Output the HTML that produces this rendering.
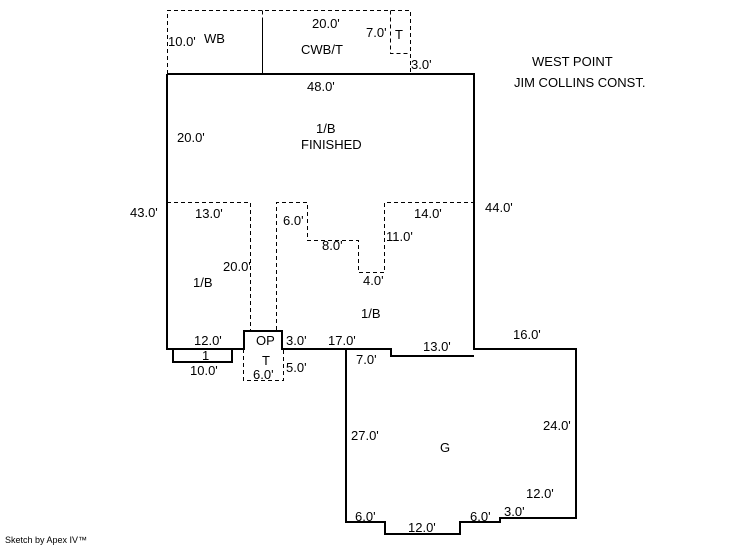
<!DOCTYPE html>
<html><head><meta charset="utf-8"><style>
html,body{margin:0;padding:0;background:#fff;}
svg{display:block;}
text{font-family:"Liberation Sans",Arial,sans-serif;font-size:13px;fill:#000;}
</style></head><body>
<svg width="746" height="547" viewBox="0 0 746 547" xmlns="http://www.w3.org/2000/svg">
<g fill="none" stroke="#000" stroke-width="1" stroke-dasharray="4,3">
<path d="M167.5 74 V10.5 H410.5 V74"/>
<path d="M262.5 10.5 V20"/>
<path d="M390.5 10.5 V53.5 H410.5"/>
<path d="M167 202.5 H250.5 V330"/>
<path d="M276.5 330 V202.5 H307.5 V240.5 H358.5 V272.5 H384.5 V202.5 H474"/>
<path d="M243.5 349 V380.5 H283.5 V349"/>
</g>
<path d="M262.5 20 V74" stroke="#000" stroke-width="1"/>
<g fill="none" stroke="#000" stroke-width="2" stroke-linejoin="miter">
<path d="M167 74 H474 V349 H576 V518 H500 V522 H460 V534 H385 V522 H346 V349"/>
<path d="M167 74 V349 H244 V331 H282 V349 H391 V356 H474"/>
<path d="M173 349 V362 H232 V349"/>
</g>
<g>
<text x="168" y="46">10.0'</text><text x="204" y="43">WB</text>
<text x="312" y="28">20.0'</text><text x="301" y="54">CWB/T</text>
<text x="366" y="37">7.0'</text><text x="395" y="39">T</text>
<text x="411" y="69">3.0'</text>
<text x="307" y="91">48.0'</text>
<text x="532" y="66">WEST POINT</text>
<text x="514" y="87">JIM COLLINS CONST.</text>
<text x="177" y="142">20.0'</text>
<text x="316" y="133">1/B</text><text x="301" y="149">FINISHED</text>
<text x="130" y="217">43.0'</text>
<text x="485" y="212">44.0'</text>
<text x="195" y="218">13.0'</text>
<text x="283" y="225">6.0'</text>
<text x="414" y="218">14.0'</text>
<text x="322" y="250">8.0'</text>
<text x="386" y="241">11.0'</text>
<text x="223" y="271">20.0'</text>
<text x="193" y="287">1/B</text>
<text x="363" y="285">4.0'</text>
<text x="361" y="318">1/B</text>
<text x="194" y="345">12.0'</text>
<text x="256" y="345">OP</text>
<text x="286" y="345">3.0'</text>
<text x="328" y="345">17.0'</text>
<text x="513" y="339">16.0'</text>
<text x="423" y="351">13.0'</text>
<text x="202" y="360">1</text>
<text x="190" y="375">10.0'</text>
<text x="262" y="365">T</text>
<text x="253" y="379">6.0'</text>
<text x="286" y="372">5.0'</text>
<text x="356" y="364">7.0'</text>
<text x="351" y="440">27.0'</text>
<text x="543" y="430">24.0'</text>
<text x="440" y="452">G</text>
<text x="526" y="498">12.0'</text>
<text x="504" y="516">3.0'</text>
<text x="355" y="521">6.0'</text>
<text x="470" y="521">6.0'</text>
<text x="408" y="532">12.0'</text>
<text x="5" y="543" style="font-size:9px">Sketch by Apex IV™</text>
</g>
</svg>
</body></html>
